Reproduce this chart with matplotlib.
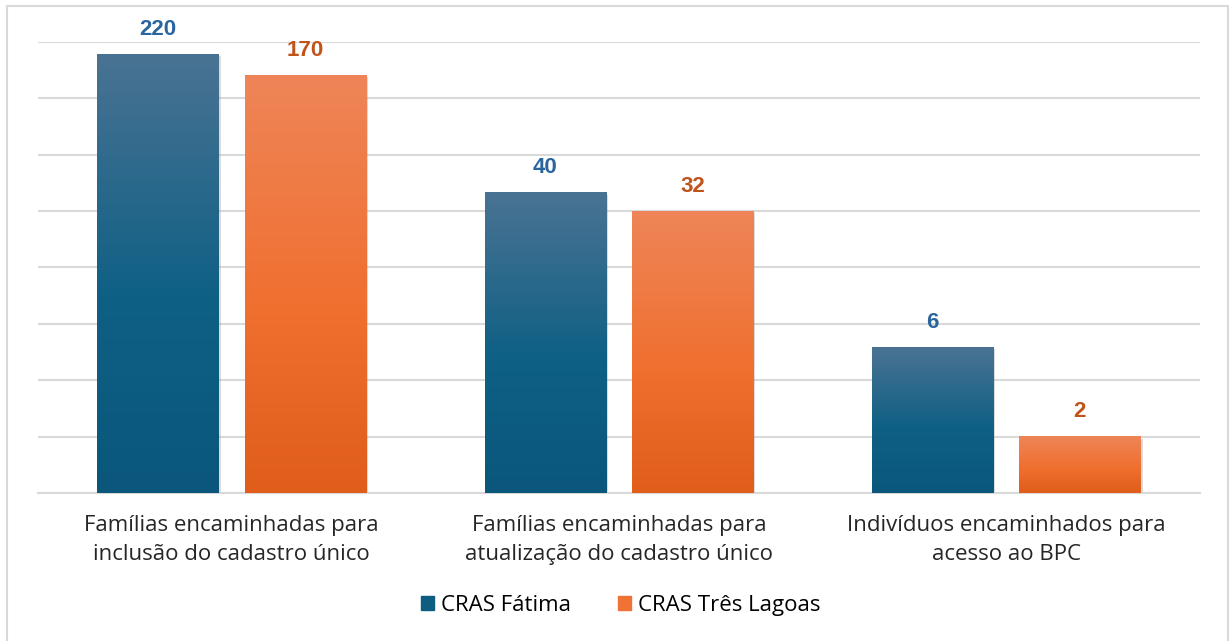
import matplotlib
matplotlib.use("Agg")
import matplotlib.pyplot as plt
import matplotlib.patheffects as pe
from matplotlib.colors import LinearSegmentedColormap
from matplotlib.patches import Rectangle
from matplotlib.ticker import NullLocator, FixedLocator
from matplotlib.transforms import BboxTransformTo, TransformedBbox
import numpy as np

plt.rcParams['font.family'] = ['Open Sans', 'DejaVu Sans']

categorias = ["Famílias encaminhadas para\ninclusão do cadastro único",
              "Famílias encaminhadas para\natualização do cadastro único",
              "Indivíduos encaminhados para\nacesso ao BPC"]
fatima = [220, 40, 6]
tres_lagoas = [170, 32, 2]
series = ["CRAS Fátima", "CRAS Três Lagoas"]

azul = LinearSegmentedColormap.from_list("azul", [(0, "#0A577B"), (0.45, "#0F6085"), (1, "#4A7393")])
laranja = LinearSegmentedColormap.from_list("laranja", [(0, "#E05D1A"), (0.45, "#F07030"), (1, "#EE8558")])
cor_texto = ["#2A659E", "#C0531A"]

fig = plt.figure(figsize=(12.29, 6.41), dpi=100)
ax = fig.add_axes([0.0309, 0.2309, 0.9455, 0.7036])

x = np.arange(len(categorias))
w = 0.313
off = 0.19

sombra = [pe.SimplePatchShadow(offset=(1.5, -1.5), shadow_rgbFace="#999999", alpha=0.35), pe.Normal()]
grad = np.linspace(0, 1, 256)[:, None] * np.ones((1, 2))

for vals, dx, cmap, cor, nome in [(fatima, -off, azul, cor_texto[0], series[0]),
                                  (tres_lagoas, off, laranja, cor_texto[1], series[1])]:
    # log2 axis starts at 1, so bars go from 1 up to the value
    alturas = np.array(vals) - 1
    bars = ax.bar(x + dx, alturas, width=w, bottom=1, color=cmap(0.3), linewidth=0,
                  label=nome, zorder=2, path_effects=sombra)
    for b, v in zip(bars, vals):
        # vertical gradient stretched over each bar in screen space
        tr = BboxTransformTo(TransformedBbox(b.get_bbox(), ax.transData))
        ax.imshow(grad, extent=(0, 1, 0, 1), origin="lower", cmap=cmap, vmin=0, vmax=1,
                  aspect="auto", zorder=3, interpolation="bilinear", transform=tr)
        ax.annotate(str(v), (b.get_x() + b.get_width() / 2, v), xytext=(0, 10.5),
                    textcoords="offset points", ha="center", va="bottom",
                    fontsize=16, fontweight="bold", color=cor, family="Liberation Sans")

ax.set_yscale("log", base=2)
ax.set_ylim(1, 256)
ax.set_xlim(-0.5, 2.5)
ax.yaxis.set_major_locator(FixedLocator([2 ** i for i in range(9)]))
ax.yaxis.set_minor_locator(NullLocator())
ax.set_yticklabels([])
ax.tick_params(axis="y", length=0)
ax.grid(axis="y", color="#D9D9D9", linewidth=1.5, zorder=0)
ax.set_axisbelow(True)
ax.set_xticks(x)
ax.set_xticklabels(categorias, fontsize=16, color="#262626", linespacing=1.5)
ax.tick_params(axis="x", length=0, pad=16)
for s in ["top", "right", "left"]:
    ax.spines[s].set_visible(False)
ax.spines["bottom"].set_color("#D9D9D9")
ax.spines["bottom"].set_linewidth(1.5)
ax.set_facecolor("none")

handles = [Rectangle((0, 0), 1, 1, color=azul(0.3)), Rectangle((0, 0), 1, 1, color=laranja(0.5))]
fig.legend(handles, series, loc="center", bbox_to_anchor=(0.505, 0.055), ncol=2, frameon=False,
           fontsize=16, handlelength=0.6, handleheight=0.6, handletextpad=0.3, columnspacing=2.1)

fig.patches.append(Rectangle((0.006, -0.01), 0.993, 1.0, transform=fig.transFigure, fill=False,
                             edgecolor="#D9D9D9", linewidth=1.5, zorder=-1))

fig.savefig("out.png", dpi=100)
